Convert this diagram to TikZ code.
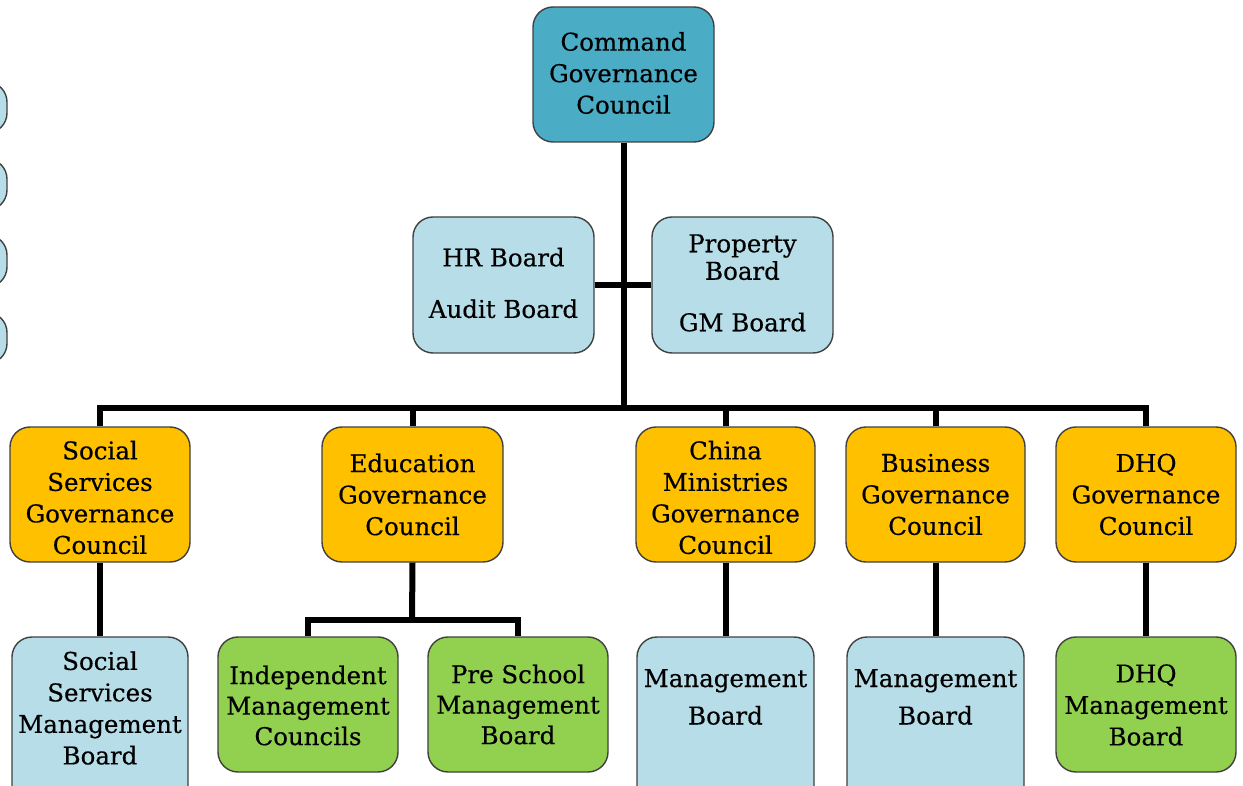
\documentclass[tikz,border=0pt]{standalone}
\usepackage{fontspec}
\setmainfont{DejaVu Serif}[FakeBold=0.4]
\begin{document}
\begin{tikzpicture}[x=1pt,y=-1pt,
  box/.style={draw=black!75, line width=1.4pt, rounded corners=20pt, inner sep=0pt},
  teal/.style={box, fill=cTeal},
  lblue/.style={box, fill=cBlue},
  orng/.style={box, fill=cOrange},
  grn/.style={box, fill=cGreen},
  txt/.style={align=center, inner sep=0pt, font=\fontsize{24.5}{31.5}\selectfont, text=black},
  conn/.style={draw=black, line width=6pt, line join=miter}]
\definecolor{cTeal}{HTML}{4BACC6}
\definecolor{cBlue}{HTML}{B7DEE8}
\definecolor{cOrange}{HTML}{FFC000}
\definecolor{cGreen}{HTML}{92D050}
\useasboundingbox (0,0) rectangle (1243,786);
\clip (0,0) rectangle (1243,786);
% left partial boxes
\node[lblue, minimum width=107pt, minimum height=51pt] (l1) at (-46.5,107.5) {};
\node[lblue, minimum width=107pt, minimum height=51pt] (l2) at (-46.5,184.5) {};
\node[lblue, minimum width=107pt, minimum height=52pt] (l3) at (-46.5,261) {};
\node[lblue, minimum width=107pt, minimum height=51pt] (l4) at (-46.5,338) {};
% top
\node[teal, minimum width=181pt, minimum height=135pt] (cmd) at (623.5,74.5) {};
\node[lblue, minimum width=181pt, minimum height=136pt] (hr) at (503.5,285) {};
\node[lblue, minimum width=181pt, minimum height=136pt] (prop) at (742.5,285) {};
% row 2
\node[orng, minimum width=180pt, minimum height=135pt] (ss) at (100,494.5) {};
\node[orng, minimum width=181pt, minimum height=135pt] (edu) at (412.5,494.5) {};
\node[orng, minimum width=179pt, minimum height=135pt] (cn) at (725.5,494.5) {};
\node[orng, minimum width=179pt, minimum height=135pt] (bus) at (935.5,494.5) {};
\node[orng, minimum width=180pt, minimum height=135pt] (dhq) at (1146,494.5) {};
% row 3
\node[lblue, minimum width=176pt, minimum height=173pt] (ssm) at (100,723.5) {};
\node[grn, minimum width=180pt, minimum height=135pt] (ind) at (308,704.5) {};
\node[grn, minimum width=180pt, minimum height=135pt] (pre) at (518,704.5) {};
\node[lblue, minimum width=177pt, minimum height=173pt] (cnm) at (725.5,723.5) {};
\node[lblue, minimum width=177pt, minimum height=173pt] (busm) at (935.5,723.5) {};
\node[grn, minimum width=180pt, minimum height=135pt] (dhqm) at (1146,704.5) {};
% connectors
\coordinate (hub) at (623,408);
\coordinate (eduj) at (412,620);
\draw[conn] (cmd.south) -- (cmd.south |- hub);
\draw[conn] (hr.east) -- (prop.west);
\draw[conn] (ss.north) |- (hub) -| (dhq.north);
\draw[conn] (edu.north) -- (edu.north |- hub);
\draw[conn] (cn.north) -- (cn.north |- hub);
\draw[conn] (bus.north) -- (bus.north |- hub);
\draw[conn] (ss.south) -- (ssm.north);
\draw[conn] (edu.south) -- (eduj);
\draw[conn] (ind.north) |- (eduj) -| (pre.north);
\draw[conn] (cn.south) -- (cnm.north);
\draw[conn] (bus.south) -- (busm.north);
\draw[conn] (dhq.south) -- (dhqm.north);
% texts
\node[txt] (tcmd) at (623.5,73) {Command\\Governance\\Council};
\node[txt] (thr) at (503.5,283) {HR Board\\[20pt]Audit Board};
\node[txt] (tprop) at (742.5,283) {Property\\[-4pt]Board\\[20pt]GM Board};
\node[txt] (tss) at (100,497.5) {Social\\Services\\Governance\\Council};
\node[txt] (tedu) at (412.5,494.5) {Education\\Governance\\Council};
\node[txt] (tcn) at (725.5,497.5) {China\\Ministries\\Governance\\Council};
\node[txt] (tbus) at (935.5,494.5) {Business\\Governance\\Council};
\node[txt] (tdhq) at (1146,494.5) {DHQ\\Governance\\Council};
\node[txt] (tssm) at (100,708) {Social\\Services\\Management\\Board};
\node[txt] (tind) at (308,705.5) {Independent\\[-1pt]Management\\[-1pt]Councils};
\node[txt] (tpre) at (518,704.5) {Pre School\\[-1pt]Management\\[-1pt]Board};
\node[txt] (tcnm) at (725.5,697) {Management\\[6pt]Board};
\node[txt] (tbusm) at (935.5,697) {Management\\[6pt]Board};
\node[txt] (tdhqm) at (1146,705) {DHQ\\Management\\Board};
\end{tikzpicture}
\end{document}
